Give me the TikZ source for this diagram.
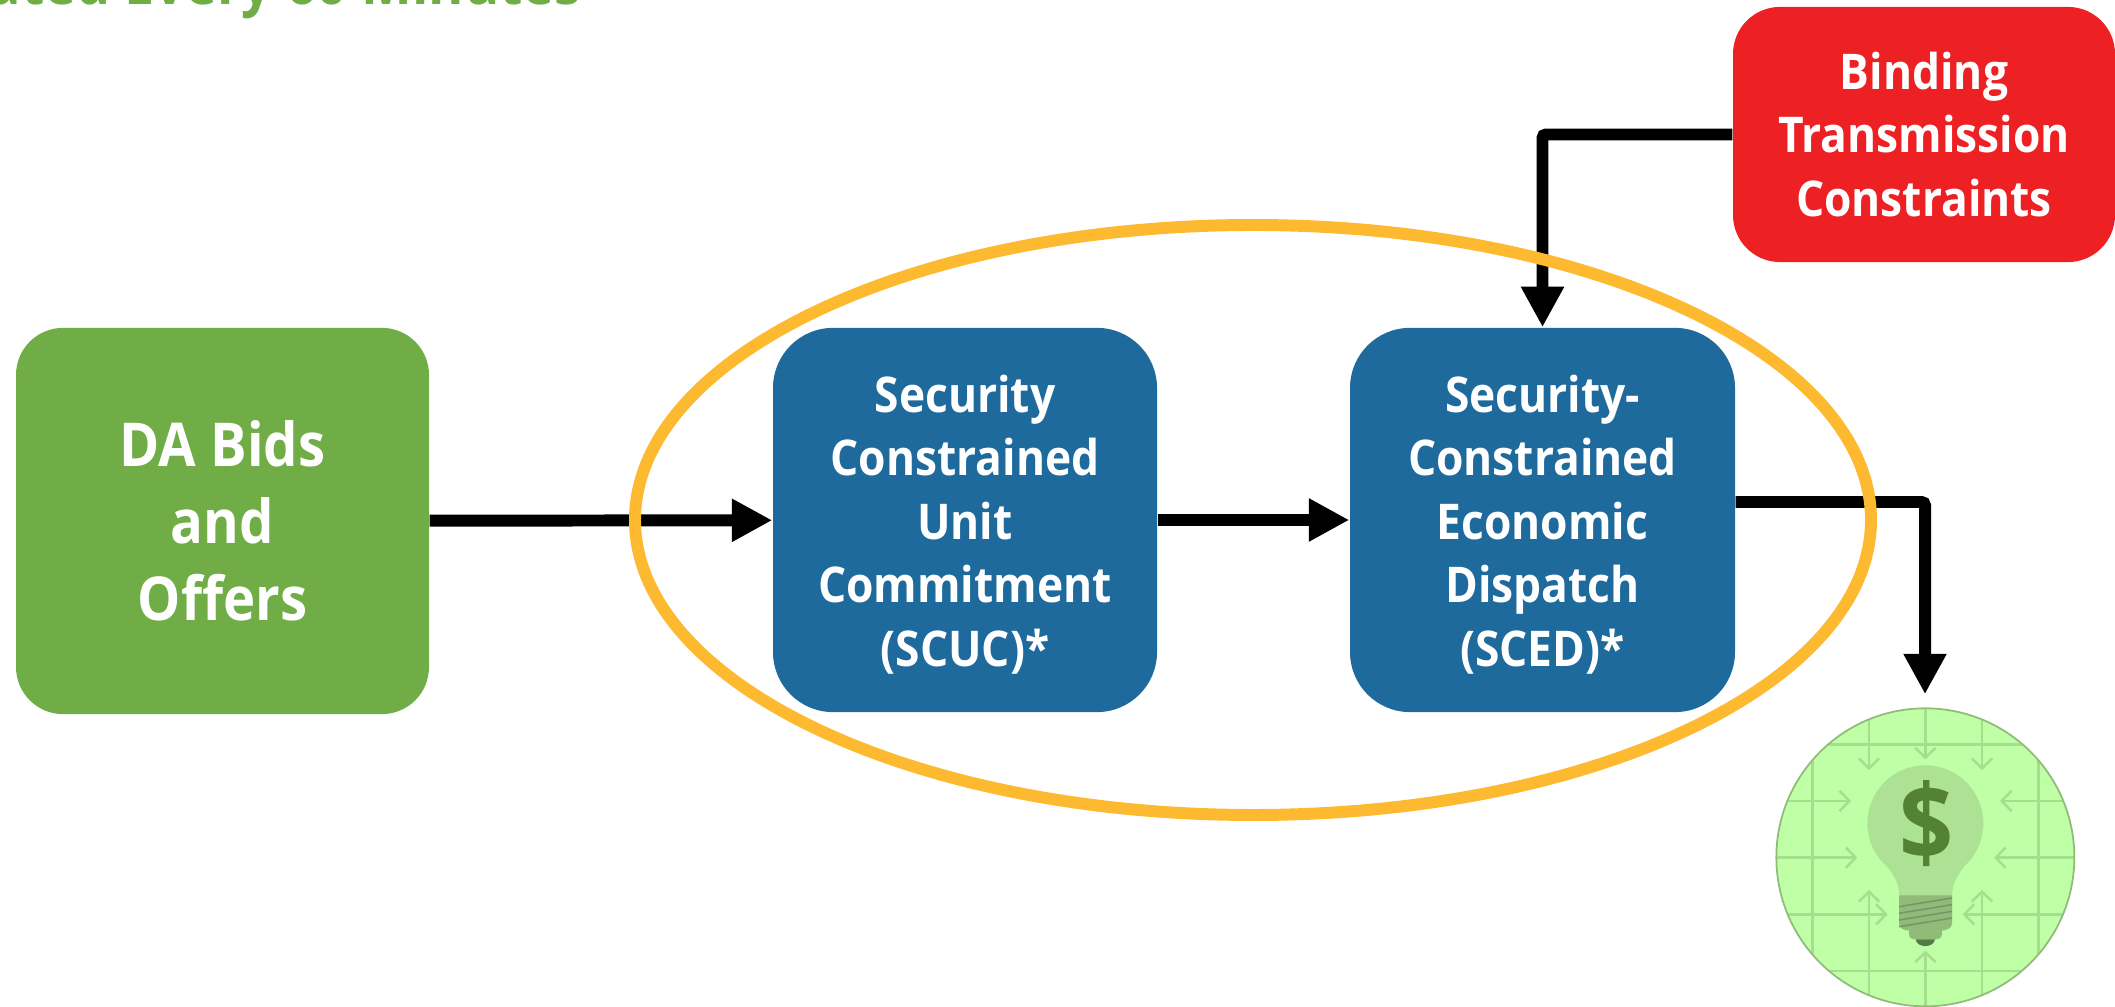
\documentclass[tikz,border=0pt]{standalone}
\usepackage{fontspec}
\setmainfont[FakeStretch=0.9]{Open Sans}
\usetikzlibrary{arrows.meta}
\definecolor{boxgreen}{HTML}{70AD47}
\definecolor{boxblue}{HTML}{1F6A9C}
\definecolor{boxred}{HTML}{ED2024}
\definecolor{ringgold}{HTML}{FDB92F}
\definecolor{lampback}{HTML}{BFFFA6}
\definecolor{lampgrid}{HTML}{A6DE90}
\definecolor{lampglass}{HTML}{ADE193}
\definecolor{lampbase}{HTML}{90BC78}
\definecolor{lampdark}{HTML}{557A48}
\definecolor{lampsign}{HTML}{548235}
\newcommand{\topgap}{\rule{0pt}{13.2pt}}
\tikzset{
    flowbox/.style={rounded corners=0.47cm,minimum width=#1*0.01cm,align=center,text=white,inner sep=0pt,font=\bfseries\fontsize{14}{18.1}\selectfont},
    solverbox/.style={flowbox=#1,fill=boxblue,minimum height=3.84cm,rounded corners=0.6cm},
    flowline/.style={line width=3.4pt,-{Triangle[length=11.5pt,width=11.5pt]}},
    gridline/.style={lampgrid,line width=0.7pt},
    gridarrow/.style={gridline,-{Straight Barb[length=2.8pt,width=5.8pt]}},
  }
\begin{document}
\begin{tikzpicture}[x=0.01cm,y=-0.01cm]
	\useasboundingbox (0,0) rectangle (2115,1007);
	%boites
	\node[flowbox=413,fill=boxgreen,minimum height=3.86cm,font=\bfseries\fontsize{17.2}{21.9}\selectfont] (bids) at (222.5,521) {DA Bids\\and\\Offers};
	\node[solverbox=384] (scuc) at (965,520) {\topgap Security\\Constrained\\Unit\\Commitment\\(SCUC)*};
	\node[solverbox=385] (sced) at (1542.5,520) {\topgap Security-\\Constrained\\Economic\\Dispatch\\(SCED)*};
	\node[flowbox=382,fill=boxred,minimum height=2.55cm] (limits) at (1924,134.5) {Binding\\Transmission\\Constraints};
	\node[circle,minimum size=2.98cm,inner sep=0pt] (lamp) at (1925,857) {};
	\begin{scope}
		\clip (0,0) rectangle (2115,20);
		\node[anchor=base east,text=boxgreen,inner sep=0pt,font=\bfseries\fontsize{17}{17}\selectfont] (title) at (582,5) {Updated Every 60 Minutes};
	\end{scope}
	%fleches
	\coordinate (out) at ([yshift=0.18cm]sced.east);
	\draw[flowline] (bids) -- (scuc);
	\draw[flowline] (scuc) -- (sced);
	\draw[flowline,rounded corners=1pt] (limits.west) -| (sced.north);
	\draw[flowline,rounded corners=1pt] (out) -| ([yshift=0.13cm]lamp.north);
	%anneau
	\draw[ringgold,line width=3.4pt] (1253,520) ellipse (618 and 295);
	%ampoule
	\begin{scope}[shift={(1740,680)},x=0.01cm/3,y=-0.01cm/3]
		\fill[lampback] (556,532) circle (447);
		\begin{scope}
			\clip (556,532) circle (447);
			\foreach \a in {217,896} \draw[gridline] (\a,0) -- (\a,1000);
			\foreach \b in {193,873} \draw[gridline] (0,\b) -- (1200,\b);
			\foreach \a/\b/\c in {387/270/630,556/238/812,726/270/630} {
				\draw[gridarrow] (\a,0) -- (\a,\b);
				\draw[gridarrow] (\a,1000) -- (\a,\c);
			}
			\foreach \b/\a/\c in {363/333/780,533/352/762,703/443/668} {
				\draw[gridarrow] (0,\b) -- (\a,\b);
				\draw[gridarrow] (1200,\b) -- (\c,\b);
			}
		\end{scope}
		\draw[lampbase,line width=0.5pt] (556,532) circle (447);
		\fill[lampglass] (556,430) circle (174);
		\fill[lampglass] (432,545) .. controls (465,590) and (478,610) .. (478,650) -- (636,650) .. controls (636,610) and (650,590) .. (682,545) -- cycle;
		\fill[lampbase] (477,646) -- (636,646) -- (636,730) .. controls (636,745) and (620,750) .. (606,752) -- (606,762) .. controls (606,775) and (595,778) .. (585,778) -- (527,778) .. controls (515,778) and (507,775) .. (507,762) -- (507,752) .. controls (490,750) and (477,745) .. (477,730) -- cycle;
		\fill[lampdark] (527,778) .. controls (530,805) and (582,805) .. (585,778) -- cycle;
		\foreach \b in {672,692,712,732} \draw[lampdark!80,line width=0.45pt] (477,\b+8) -- (636,\b-18);
		\node[text=lampsign,inner sep=0pt,font=\bfseries\fontsize{30}{30}\selectfont] (dollar) at (560,432) {\$};
	\end{scope}
\end{tikzpicture}
\end{document}
